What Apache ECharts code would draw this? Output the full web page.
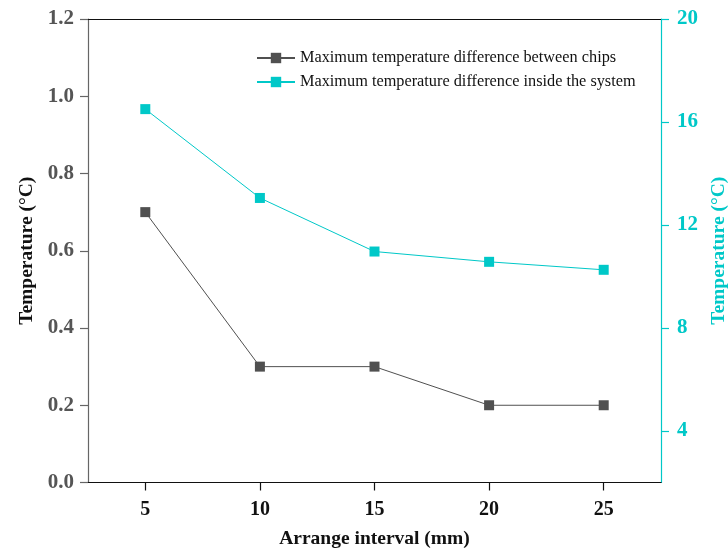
<!DOCTYPE html>
<html>
<head>
<meta charset="utf-8">
<script src="https://cdn.jsdelivr.net/npm/echarts@6/dist/echarts.min.js"></script>
<style>html,body{margin:0;padding:0;background:#fff}#c{width:728px;height:549px}</style>
</head>
<body>
<div id="c"></div>
<script>
var intervals = [5, 10, 15, 20, 25];
var chipDiff = [0.7, 0.3, 0.3, 0.2, 0.2];
var systemDiff = [16.5, 13.05, 10.97, 10.57, 10.26];
var xTicks = [5, 10, 15, 20, 25];
var rightTicks = [4, 8, 12, 16, 20];
var seriesNames = ['Maximum temperature difference between chips', 'Maximum temperature difference inside the system'];

var FONT = '"Liberation Serif", "Times New Roman", serif';
var GRAY = '#505050';
var CYAN = '#00C8C8';

function pairs(xs, ys) { return xs.map(function (x, i) { return [x, ys[i]]; }); }

var chart = echarts.init(document.getElementById('c'));
chart.setOption({
  animation: false,
  backgroundColor: '#fff',
  textStyle: { fontFamily: FONT },
  grid: { left: 88, right: 67, top: 19, bottom: 66.5, containLabel: false, outerBoundsMode: 'none' },
  legend: {
    orient: 'vertical', left: 251, top: 45, itemGap: 8, itemWidth: 38, itemHeight: 13,
    textStyle: { fontFamily: FONT, fontSize: 16.3, color: '#111' },
    data: seriesNames
  },
  xAxis: [{
    type: 'value', min: 2.5, max: 27.5, position: 'bottom',
    name: 'Arrange interval (mm)', nameLocation: 'middle', nameGap: 46,
    nameTextStyle: { fontFamily: FONT, fontWeight: 'bold', fontSize: 19.5, color: '#111' },
    axisLine: { lineStyle: { color: '#111', width: 1.2 } },
    axisTick: { show: true, length: 8, inside: false, customValues: xTicks, lineStyle: { color: '#111', width: 1.2 } },
    axisLabel: { customValues: xTicks, margin: 17, fontFamily: FONT, fontWeight: 'bold', fontSize: 20, color: '#111' },
    splitLine: { show: false }
  }, {
    type: 'value', min: 2.5, max: 27.5, position: 'top',
    axisLine: { lineStyle: { color: '#111', width: 1.2 } },
    axisTick: { show: false }, axisLabel: { show: false }, splitLine: { show: false }
  }],
  yAxis: [{
    type: 'value', min: 0, max: 1.2, interval: 0.2, position: 'left',
    name: 'Temperature (°C)', nameLocation: 'middle', nameGap: 49, nameRotate: 90,
    nameTextStyle: { fontFamily: FONT, fontWeight: 'bold', fontSize: 19.5, color: '#111' },
    axisLine: { show: true, lineStyle: { color: '#666', width: 1.2 } },
    axisTick: { show: true, length: 8, lineStyle: { color: '#666', width: 1.2 } },
    axisLabel: { margin: 14, fontFamily: FONT, fontWeight: 'bold', fontSize: 21, color: '#555',
      formatter: function (v) { return v.toFixed(1); } },
    splitLine: { show: false }
  }, {
    type: 'value', min: 2, max: 20, position: 'right',
    name: 'Temperature (°C)', nameLocation: 'middle', nameGap: 46, nameRotate: 90,
    nameTextStyle: { fontFamily: FONT, fontWeight: 'bold', fontSize: 19.5, color: CYAN },
    axisLine: { show: true, lineStyle: { color: CYAN, width: 1.2 } },
    axisTick: { show: true, length: 8, customValues: rightTicks, lineStyle: { color: CYAN, width: 1.2 } },
    axisLabel: { customValues: rightTicks, margin: 16, fontFamily: FONT, fontWeight: 'bold', fontSize: 21, color: CYAN },
    splitLine: { show: false }
  }],
  series: [{
    name: seriesNames[0], type: 'line', xAxisIndex: 0, yAxisIndex: 0,
    data: pairs(intervals, chipDiff),
    symbol: 'rect', symbolSize: 10,
    lineStyle: { color: GRAY, width: 1 }, itemStyle: { color: GRAY }
  }, {
    name: seriesNames[1], type: 'line', xAxisIndex: 0, yAxisIndex: 1,
    data: pairs(intervals, systemDiff),
    symbol: 'rect', symbolSize: 10,
    lineStyle: { color: CYAN, width: 1 }, itemStyle: { color: CYAN }
  }]
});
</script>
</body>
</html>
